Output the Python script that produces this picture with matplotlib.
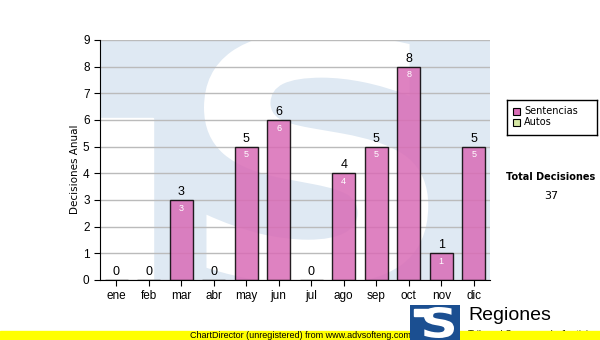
import matplotlib.pyplot as plt
from matplotlib.patches import Rectangle, PathPatch
from matplotlib.textpath import TextPath
from matplotlib.font_manager import FontProperties
from matplotlib.transforms import Affine2D

meses = ["ene", "feb", "mar", "abr", "may", "jun", "jul", "ago", "sep", "oct", "nov", "dic"]
sentencias = [0, 0, 3, 0, 5, 6, 0, 4, 5, 8, 1, 5]
autos = [0, 0, 0, 0, 0, 0, 0, 0, 0, 0, 0, 0]
total = sum(sentencias) + sum(autos)

rosa = "#d96cb6"
verde = "#d6e8a4"
azul_logo = "#1b4f91"
plt.rcParams["font.family"] = ["Liberation Sans", "DejaVu Sans"]


def letra_s(x0, x1, y0, y1):
    p = TextPath((0, 0), "S", size=100, prop=FontProperties(family="DejaVu Sans", weight="bold"))
    ext = p.get_extents()
    t = (Affine2D().translate(-ext.x0, -ext.y0)
         .scale((x1 - x0) / ext.width, (y1 - y0) / ext.height)
         .translate(x0, y0))
    return t.transform_path(p)


fig = plt.figure(figsize=(6, 3.4), dpi=100)
ax = fig.add_axes([100/600, 60/340, 390/600, 240/340])

x = list(range(len(meses)))
ax.set_xlim(-0.5, 11.5)
ax.set_ylim(0, 9)

# marca de agua (logo grande)
ax.set_facecolor("#dfe9f3")
ax.add_patch(Rectangle((-0.5, 0), 1.63, 6.07, color="white", zorder=0))
ax.add_patch(PathPatch(letra_s(2.7, 9.6, -0.2, 9.3), facecolor="white",
                       edgecolor="none", zorder=0))

ax.set_yticks(range(10))
ax.yaxis.grid(True, color="#bbbbbb", linewidth=1, zorder=1)
ax.set_axisbelow(True)

ax.bar(x, sentencias, width=0.7, color=rosa, alpha=0.85, edgecolor="black",
       linewidth=1, zorder=2)

for i, v in enumerate(sentencias):
    ax.text(i, v + 0.08, str(v), ha="center", va="bottom", fontsize=9, zorder=3)
    if v > 0:
        ax.text(i, v - 0.14, str(v), ha="center", va="top", fontsize=6.5,
                color="white", zorder=3)

ax.set_xticks(x)
ax.set_xticklabels(meses, fontsize=8.5)
ax.tick_params(axis="y", labelsize=8.5, length=4)
ax.tick_params(axis="x", length=4)
for s in ["top", "right"]:
    ax.spines[s].set_visible(False)
ax.set_ylabel("Decisiones Anual", fontsize=7.5, family="DejaVu Sans")
ax.yaxis.set_label_coords(-0.05, 0.46)

# leyenda
leg = fig.add_axes([507/600, 1 - 135/340, 90/600, 35/340])
leg.set_xlim(0, 90)
leg.set_ylim(35, 0)
leg.set_xticks([])
leg.set_yticks([])
for s in leg.spines.values():
    s.set_linewidth(1)
leg.add_patch(Rectangle((6, 8), 7, 7, facecolor=rosa, edgecolor="black", linewidth=0.8))
leg.add_patch(Rectangle((6, 19), 7, 7, facecolor=verde, edgecolor="black", linewidth=0.8))
leg.text(17, 11.5, "Sentencias", fontsize=7, va="center", family="DejaVu Sans")
leg.text(17, 22.5, "Autos", fontsize=7, va="center", family="DejaVu Sans")

fig.text(551/600, 1 - 177/340, "Total Decisiones", fontsize=7, fontweight="bold",
         ha="center", va="center", family="DejaVu Sans")
fig.text(551/600, 1 - 196/340, str(total), fontsize=8, ha="center", va="center",
         family="DejaVu Sans")

# texto del logo
fig.text(468/600, 1 - 316/340, "Regiones", fontsize=14, va="center", zorder=2)
fig.text(468/600, 1 - 335/340, "Tribunal Supremo de Justicia", fontsize=7,
         va="center", zorder=2)

# banda amarilla
fig.patches.append(Rectangle((0, 0), 1, 9/340, transform=fig.transFigure,
                             color="#ffff00", zorder=3))
fig.text(190/600, 4.5/340, "ChartDirector (unregistered) from www.advsofteng.com",
         fontsize=6.5, ha="left", va="center", zorder=4)

# logo inferior
logo = fig.add_axes([410/600, 0, 50/600, 35/340], zorder=6)
logo.set_xlim(0, 50)
logo.set_ylim(0, 35)
logo.set_xticks([])
logo.set_yticks([])
logo.set_facecolor(azul_logo)
for s in logo.spines.values():
    s.set_visible(False)
logo.add_patch(Rectangle((4, 24), 18, 7, color="white"))
logo.add_patch(PathPatch(letra_s(14, 44, 2, 33), facecolor="white", edgecolor="none"))

fig.savefig("out.png", dpi=100)
